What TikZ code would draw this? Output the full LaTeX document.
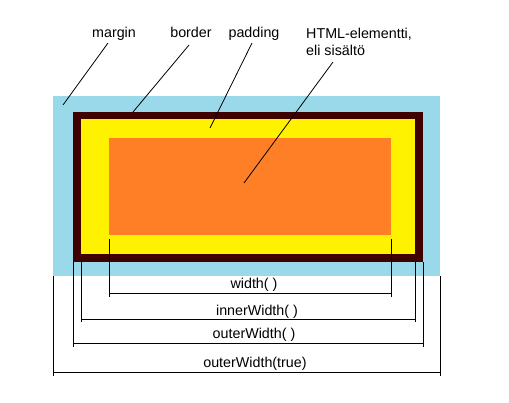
\documentclass[tikz,border=0pt]{standalone}
\usepackage{fontspec}
\setmainfont{Liberation Sans}
\usetikzlibrary{positioning}
\definecolor{marginblue}{HTML}{99D9EA}
\definecolor{borderbrown}{HTML}{3F0000}
\definecolor{paddingyellow}{HTML}{FFF200}
\definecolor{contentorange}{HTML}{FF7F27}

\begin{document}
\begin{tikzpicture}[x=1pt,y=-1pt,
    box/.style={inner sep=0pt, outer sep=0pt},
    lbl/.style={font=\fontsize{14.3}{17}\selectfont, inner sep=0pt, anchor=base},
    dim/.style={draw=black, line width=1pt},
    lead/.style={draw=black, line width=0.8pt}]
    \useasboundingbox[fill=white] (0,0) rectangle (509,402);

    % nested boxes
    \node[box, fill=marginblue, minimum width=387pt, minimum height=180pt] (margin) at (246.5,186) {};
    \node[box, fill=borderbrown, minimum width=350pt, minimum height=150pt] (border) at (248,187) {};
    \node[box, fill=paddingyellow, minimum width=334pt, minimum height=135pt] (padding) at (248,186.5) {};
    \node[box, fill=contentorange, minimum width=282pt, minimum height=97pt] (content) at (250,186.5) {};

    % labels on top
    \node[lbl] (lmargin) at (114,37) {margin};
    \node[lbl] (lborder) at (191,37) {border};
    \node[lbl] (lpadding) at (254,37) {padding};
    \node[lbl, anchor=north west, align=left] (lcontent) at (306,28) {HTML-elementti,\\eli sisältö};

    \coordinate (mFrom) at (108,43);   \coordinate (mTo) at (63,105);
    \coordinate (bFrom) at (189,45);   \coordinate (bTo) at (133,112);
    \coordinate (pFrom) at (252,43);   \coordinate (pTo) at (210,128);
    \coordinate (cFrom) at (333,62);   \coordinate (cTo) at (244,183);
    \draw[lead] (mFrom) -- (mTo);
    \draw[lead] (bFrom) -- (bTo);
    \draw[lead] (pFrom) -- (pTo);
    \draw[lead] (cFrom) -- (cTo);

    % width()
    \coordinate (wL) at (109,293); \coordinate (wR) at (391,293);
    \draw[dim] ([yshift=-4pt]content.south west) -- ([yshift=-4pt]wL) (wL) -- (wR)
               ([yshift=-4pt]content.south east) -- ([yshift=-4pt]wR);
    \node[lbl] (lwidth) at (254,288) {width( )};

    % innerWidth()
    \coordinate (iL) at (81,319); \coordinate (iR) at (415,319);
    \draw[dim] (padding.west |- border.south) -- ([yshift=-3pt]iL) (iL) -- (iR)
               (padding.east |- border.south) -- ([yshift=-3pt]iR);
    \node[lbl] (linner) at (257,315) {innerWidth( )};

    % outerWidth()
    \coordinate (oL) at (73,343); \coordinate (oR) at (423,343);
    \draw[dim] (border.south west) -- ([yshift=-4pt]oL) (oL) -- (oR)
               (border.south east) -- ([yshift=-4pt]oR);
    \node[lbl] (louter) at (254,338) {outerWidth( )};

    % outerWidth(true)
    \coordinate (tL) at (53,372); \coordinate (tR) at (440,372);
    \draw[dim] (margin.south west) -- ([yshift=-4pt]tL) (tL) -- (tR)
               (margin.south east) -- ([yshift=-4pt]tR);
    \node[lbl] (ltrue) at (255,367) {outerWidth(true)};
\end{tikzpicture}
\end{document}
